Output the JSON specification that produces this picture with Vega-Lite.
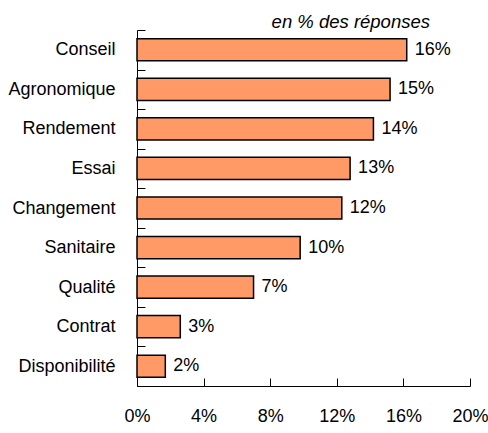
{
  "$schema": "https://vega.github.io/schema/vega-lite/v6.json",
  "autosize": {"type": "none"},
  "width": 333,
  "height": 356,
  "padding": {"left": 137, "top": 30, "right": 18, "bottom": 47},
  "background": "white",
  "config": {"view": {"stroke": null}, "font": "Liberation Sans"},
  "title": {"text": "en % des réponses", "font": "Liberation Sans", "fontStyle": "italic", "fontWeight": "normal", "fontSize": 18.5, "anchor": "end", "frame": "group", "dx": -40, "offset": -10, "color": "black"},
  "data": {"values": [
    {"cat": "Conseil", "v": 16.2, "lab": "16%"},
    {"cat": "Agronomique", "v": 15.2, "lab": "15%"},
    {"cat": "Rendement", "v": 14.2, "lab": "14%"},
    {"cat": "Essai", "v": 12.8, "lab": "13%"},
    {"cat": "Changement", "v": 12.3, "lab": "12%"},
    {"cat": "Sanitaire", "v": 9.8, "lab": "10%"},
    {"cat": "Qualité", "v": 7.0, "lab": "7%"},
    {"cat": "Contrat", "v": 2.6, "lab": "3%"},
    {"cat": "Disponibilité", "v": 1.7, "lab": "2%"}
  ]},
  "encoding": {
    "y": {"field": "cat", "type": "nominal", "sort": null, "title": null,
      "scale": {"paddingInner": 0, "paddingOuter": 0},
      "axis": {"ticks": true, "tickBand": "extent", "tickSize": -8, "tickWidth": 1, "tickColor": "black", "domainColor": "black", "labelFont": "Liberation Sans", "labelFontSize": 18, "labelColor": "black", "labelPadding": 30}},
    "x": {"field": "v", "type": "quantitative", "title": null,
      "scale": {"domain": [0, 20]},
      "axis": {"values": [0, 4, 8, 12, 16, 20], "labelExpr": "datum.value + '%'", "tickSize": -8, "tickWidth": 1, "tickColor": "black", "domainColor": "black", "grid": false, "labelFont": "Liberation Sans", "labelFontSize": 18, "labelColor": "black", "labelPadding": 29, "labelFlush": false}}
  },
  "layer": [
    {"mark": {"type": "bar", "height": {"band": 0.56}, "fill": "#FF9966", "stroke": "black", "strokeWidth": 1.5}},
    {"mark": {"type": "text", "align": "left", "dx": 8, "font": "Liberation Sans", "fontSize": 18, "color": "black"},
     "encoding": {"text": {"field": "lab", "type": "nominal"}}}
  ]
}
